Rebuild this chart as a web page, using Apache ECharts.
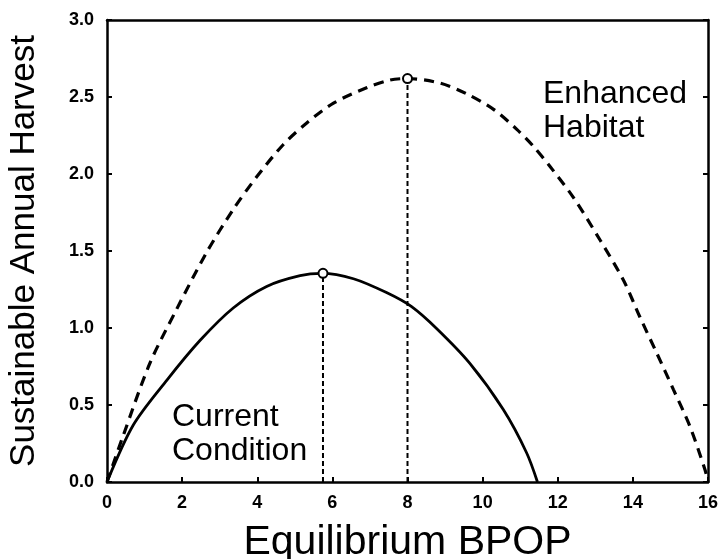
<!DOCTYPE html>
<html>
<head>
<meta charset="utf-8">
<script src="https://cdn.jsdelivr.net/npm/echarts@6/dist/echarts.min.js"></script>
<style>
  html, body { margin: 0; padding: 0; background: #fff; }
  #chart { width: 722px; height: 559px; }
</style>
</head>
<body>
<div id="chart"></div>
<script>
// values
const currentX = [0, 0.70, 1.59, 2.48, 3.36, 4.25, 5.14, 5.72, 6.56, 7.44, 8.10, 8.78, 9.66, 10.55, 11.17, 11.46]
const currentY = [0, 0.37, 0.66, 0.92, 1.13, 1.27, 1.34, 1.355, 1.32, 1.23, 1.14, 0.995, 0.77, 0.47, 0.19, 0]

const enhancedX = [0, 0.43, 1.14, 1.85, 2.65, 3.36, 3.98, 4.69, 5.31, 6.03, 6.91, 7.53, 8.0, 8.87, 9.58, 10.29, 10.91, 11.35, 11.79, 12.41, 13.13, 13.75, 14.19, 14.63, 15.08, 15.52, 15.92, 16]
const enhancedY = [0, 0.30, 0.77, 1.12, 1.49, 1.77, 1.98, 2.19, 2.33, 2.46, 2.56, 2.61, 2.62, 2.59, 2.52, 2.42, 2.29, 2.18, 2.05, 1.85, 1.57, 1.31, 1.07, 0.84, 0.60, 0.36, 0.08, 0]

// optimum points (open circles + drop lines)
const optimumX = [5.75, 8.0]
const optimumY = [1.355, 2.62]

const xTicks = [0, 2, 4, 6, 8, 10, 12, 14, 16]
const yTicks = [0.0, 0.5, 1.0, 1.5, 2.0, 2.5, 3.0]

const zip = (xs, ys) => xs.map((x, i) => [x, ys[i]])

const font = '"Liberation Sans", Arial, sans-serif'

const chart = echarts.init(document.getElementById('chart'))

const dropLines = optimumX.map((x, i) => ({
  type: 'line',
  data: [[x, 0], [x, optimumY[i]]],
  symbol: 'none',
  silent: true,
  lineStyle: { color: '#000', width: 2, type: [5, 3] },
  z: 2
}))

const frameAxisLine = { show: true, onZero: false, lineStyle: { color: '#000', width: 2.5 } }
const frameTick = { show: true, inside: true, length: 5, lineStyle: { color: '#000', width: 2 } }

const option = {
  animation: false,
  grid: { left: 107, right: 14, top: 20, bottom: 77, outerBoundsMode: 'none' },
  xAxis: [{
    type: 'value',
    min: xTicks[0],
    max: xTicks[xTicks.length - 1],
    interval: 2,
    name: 'Equilibrium BPOP',
    nameLocation: 'middle',
    nameGap: 40,
    nameTextStyle: { fontFamily: font, fontSize: 41, color: '#000' },
    axisLine: frameAxisLine,
    axisTick: frameTick,
    axisLabel: { fontFamily: font, fontWeight: 'bold', fontSize: 18, color: '#000', margin: 12 },
    splitLine: { show: false }
  }, {
    type: 'value',
    position: 'top',
    min: xTicks[0],
    max: xTicks[xTicks.length - 1],
    interval: 2,
    axisLine: frameAxisLine,
    axisTick: { show: false },
    axisLabel: { show: false },
    splitLine: { show: false }
  }],
  yAxis: [{
    type: 'value',
    min: yTicks[0],
    max: yTicks[yTicks.length - 1],
    interval: 0.5,
    name: 'Sustainable Annual Harvest',
    nameLocation: 'middle',
    nameGap: 65,
    nameTextStyle: { fontFamily: font, fontSize: 35, color: '#000' },
    axisLine: frameAxisLine,
    axisTick: frameTick,
    axisLabel: {
      fontFamily: font, fontWeight: 'bold', fontSize: 18, color: '#000', margin: 13,
      formatter: v => v.toFixed(1)
    },
    splitLine: { show: false }
  }, {
    type: 'value',
    position: 'right',
    min: yTicks[0],
    max: yTicks[yTicks.length - 1],
    interval: 0.5,
    axisLine: frameAxisLine,
    axisTick: frameTick,
    axisLabel: { show: false },
    splitLine: { show: false }
  }],
  series: [
    ...dropLines,
    {
      name: 'Current Condition',
      type: 'line',
      data: zip(currentX, currentY),
      smooth: 0.3,
      symbol: 'none',
      lineStyle: { color: '#000', width: 2.8 },
      z: 3
    },
    {
      name: 'Enhanced Habitat',
      type: 'line',
      data: zip(enhancedX, enhancedY),
      smooth: 0.3,
      symbol: 'none',
      lineStyle: { color: '#000', width: 3.2, type: [10, 7] },
      z: 3
    },
    {
      type: 'scatter',
      data: zip(optimumX, optimumY),
      symbol: 'circle',
      symbolSize: 9,
      itemStyle: { color: '#fff', borderColor: '#000', borderWidth: 2, opacity: 1 },
      emphasis: { disabled: true },
      z: 5
    }
  ],
  graphic: [
    {
      type: 'text', left: 543, top: 77,
      style: { text: 'Enhanced\nHabitat', fontFamily: font, fontSize: 32, lineHeight: 34, fill: '#000' }
    },
    {
      type: 'text', left: 172, top: 400,
      style: { text: 'Current\nCondition', fontFamily: font, fontSize: 32, lineHeight: 34, fill: '#000' }
    }
  ]
}

chart.setOption(option)
</script>
</body>
</html>
